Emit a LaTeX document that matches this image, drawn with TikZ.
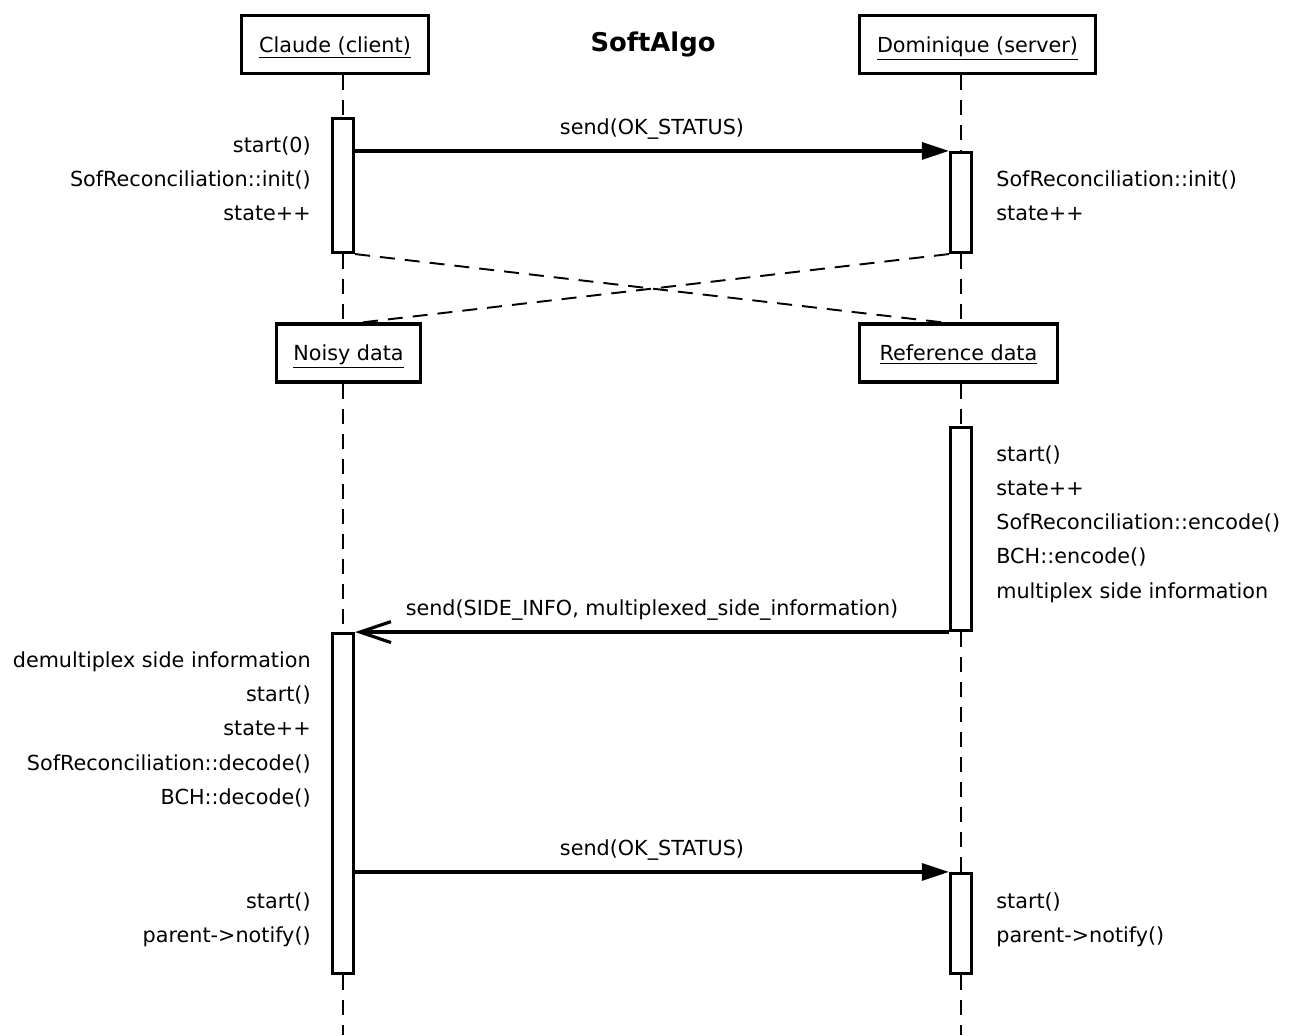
\documentclass[tikz,border=0pt]{standalone}
\usepackage{fontspec}
\setmainfont{DejaVu Sans}
\usetikzlibrary{arrows.meta}

\begin{document}
\begin{tikzpicture}[
  x=0.02cm, y=-0.02cm,
  lbl/.style={font=\fontsize{11.8}{14}\selectfont, inner sep=0pt, text depth=0pt},
  obj/.style={draw, fill=white, line width=1.8pt, minimum height=1.16cm, inner sep=0pt,
    text depth=0pt, font=\fontsize{11.8}{14}\selectfont},
  act/.style={draw, fill=white, line width=1.8pt, minimum width=0.42cm, inner sep=0pt},
  lifeline/.style={line width=1.1pt, dash pattern=on 0.3cm off 0.2cm},
  msg/.style={line width=1.8pt, -{Triangle[length=0.54cm, width=0.34cm]}},
  ret/.style={line width=1.8pt, -{Straight Barb[length=0.62cm, width=0.42cm]}}
]
  \useasboundingbox (0,0) rectangle (1298,1035);

  % objects
  \node[obj, minimum width=3.74cm] (claude) at (335,44.5) {\underline{Claude (client)}};
  \node[obj, minimum width=4.72cm] (dominique) at (977.5,44.5) {\underline{Dominique (server)}};
  \node[font=\fontsize{14.7}{17}\selectfont\bfseries] (title) at (653,44) {SoftAlgo};
  \node[obj, minimum width=2.88cm] (noisy) at (348.5,353) {\underline{Noisy data}};
  \node[obj, minimum width=3.96cm] (refdata) at (958.5,353) {\underline{Reference data}};
  \coordinate (lend) at (343,1035);
  \coordinate (rend) at (961,1035);

  % activations
  \node[act, minimum height=2.68cm] (ca1) at (343,185.5) {};
  \node[act, minimum height=2.0cm] (da1) at (961,202.5) {};
  \node[act, minimum height=4.06cm] (da2) at (961,529) {};
  \node[act, minimum height=6.8cm] (ca2) at (343,803.5) {};
  \node[act, minimum height=2.0cm] (da3) at (961,923.5) {};

  % lifelines
  \draw[lifeline] (ca1.north |- claude.south) -- (ca1.north);
  \draw[lifeline] (ca1.south) -- (ca1.south |- noisy.north);
  \draw[lifeline] (ca2.north |- noisy.south) -- (ca2.north);
  \draw[lifeline] (ca2.south) -- (lend);
  \draw[lifeline] (da1.north |- dominique.south) -- (da1.north);
  \draw[lifeline] (da1.south) -- (da1.south |- refdata.north);
  \draw[lifeline] (da2.north |- refdata.south) -- (da2.north);
  \draw[lifeline] (da2.south) -- (da3.north);
  \draw[lifeline] (da3.south) -- (rend);

  % data
  \draw[lifeline] (ca1.south east) -- ([xshift=-0.31cm]refdata.north);
  \draw[lifeline] (da1.south west) -- ([xshift=0.27cm]noisy.north);

  % messages
  \draw[msg] (ca1.east |- da1.north) -- (da1.north west)
    node[lbl, midway, above=0.30cm] (m1) {send(OK\_STATUS)};
  \draw[ret] (da2.south west) -- (ca2.north east |- da2.south west)
    node[lbl, midway, above=0.30cm] (m2) {send(SIDE\_INFO, multiplexed\_side\_information)};
  \draw[msg] (ca2.east |- da3.north) -- (da3.north west)
    node[lbl, midway, above=0.30cm] (m3) {send(OK\_STATUS)};

  % Claude
  \node[lbl, anchor=base east] (c1) at (311,152) {start(0)};
  \node[lbl, anchor=base east] (c2) at (311,186) {SofReconciliation::init()};
  \node[lbl, anchor=base east] (c3) at (311,220) {state++};
  \node[lbl, anchor=base east] (c4) at (311,667) {demultiplex side information};
  \node[lbl, anchor=base east] (c5) at (311,701) {start()};
  \node[lbl, anchor=base east] (c6) at (311,735) {state++};
  \node[lbl, anchor=base east] (c7) at (311,770) {SofReconciliation::decode()};
  \node[lbl, anchor=base east] (c8) at (311,804) {BCH::decode()};
  \node[lbl, anchor=base east] (c9) at (311,908) {start()};
  \node[lbl, anchor=base east] (c10) at (311,942) {parent->notify()};

  % Dominique
  \node[lbl, anchor=base west] (d1) at (996,186) {SofReconciliation::init()};
  \node[lbl, anchor=base west] (d2) at (996,220) {state++};
  \node[lbl, anchor=base west] (d3) at (996,461) {start()};
  \node[lbl, anchor=base west] (d4) at (996,495) {state++};
  \node[lbl, anchor=base west] (d5) at (996,529) {SofReconciliation::encode()};
  \node[lbl, anchor=base west] (d6) at (996,563) {BCH::encode()};
  \node[lbl, anchor=base west] (d7) at (996,598) {multiplex side information};
  \node[lbl, anchor=base west] (d8) at (996,908) {start()};
  \node[lbl, anchor=base west] (d9) at (996,942) {parent->notify()};
\end{tikzpicture}
\end{document}
